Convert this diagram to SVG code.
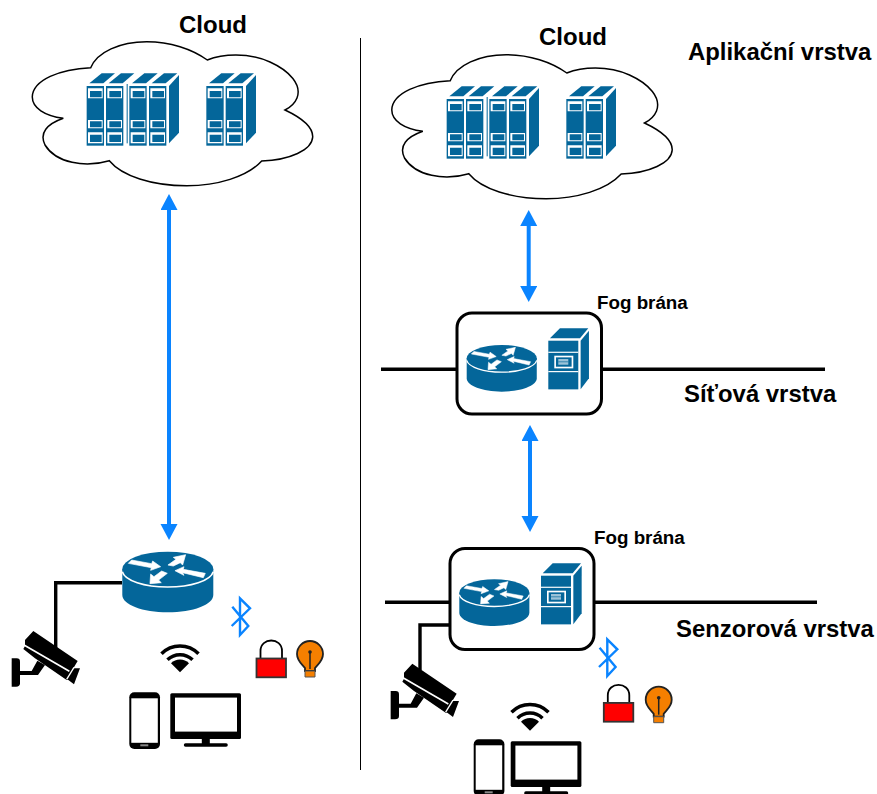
<svg xmlns="http://www.w3.org/2000/svg" xmlns:xlink="http://www.w3.org/1999/xlink" width="877" height="794" viewBox="0 0 877 794">
<style>
text{font-family:"Liberation Sans",Arial,sans-serif;font-weight:bold;fill:#000}
.c{font-size:24px}.f{font-size:18.800px}.l{font-size:23.900px}
.b{fill:#04669a}.w{fill:#fff}
.ln{fill:none;stroke:#000;stroke-width:3.400}
.ar{fill:none;stroke:#0a84ff;stroke-width:4;marker-start:url(#ah);marker-end:url(#ah)}
.bt{fill:none;stroke:#0a84ff;stroke-width:2.400}
</style>
<defs>
<marker id="ah" markerUnits="userSpaceOnUse" markerWidth="18" markerHeight="18" refX="2" refY="8.500" orient="auto-start-reverse"><path d="M0,0L16,8.500L0,17Z" fill="#0a84ff"/></marker>
<g id="blade">
<path class="b" d="M8,-8L45,-38H85L50,-8Z"/>
<rect class="b" x="0" y="0" width="52" height="179"/>
<path class="w" d="M4,7H48V37H4ZM4,102H48V127H4ZM4,139H48V172H4Z"/>
<path class="b" d="M10,15H45V34H10ZM10,106H45V124H10ZM10,146H45V168H10Z"/>
</g>
<g id="side"><path class="b" d="M0,0L30,-33V140L0,172Z"/></g>
<g id="servers">
<use href="#blade" x="200" y="258"/><use href="#blade" x="258" y="258"/><rect class="b" x="320" y="252" width="3" height="178"/><use href="#blade" x="328" y="258"/><use href="#blade" x="387" y="258"/><use href="#side" x="447" y="258"/>
<use href="#blade" x="559" y="258"/><use href="#blade" x="617" y="258"/><use href="#side" x="678" y="258"/>
</g>
<path id="cloudshape" fill="#fff" stroke="#000" stroke-width="1.500" d="M90.700,67.700C97,52 120,41.700 146.700,41.700C170,41.700 192,49 207.300,60C222,54 248,52 270,62C290,71 302,85 297,98C295,103 291,107 285,110C302,118 313,127 312.700,137C312,150 290,160 261.700,161C247,177 217,185.700 186.700,185.700C152,185.700 122,176 109.300,160.700C85,168 56,163 45,145C39,133 47,124 63.300,118.300C45,116 32,108 32.300,96.700C33,80 60,69 90.700,67.700Z"/>
<g id="router"><g transform="scale(.33333) translate(-367,-35)">
<path class="b" d="M367,87V165C367,194 428,217 503,217C579,217 640,194 640,165V87Z"/>
<ellipse class="b" cx="503.500" cy="87" rx="136.500" ry="52"/>
<path fill="none" stroke="#fff" stroke-width="5" d="M367,95C375,122 433,141 503,141C573,141 632,122 640,95"/>
<path class="w" stroke="#fff" stroke-width="2" d="M385,70L395,60L455,71L458,63L482,80L452,91L454,83ZM504,75L528,58L520,52L557,44L548,75L541,68L520,78ZM525,92L552,80L550,88L616,100L610,113L548,98L552,106ZM450,131L452,102L462,110L485,93L502,100L476,120L484,128Z"/>
</g></g>
<g id="fogserver"><g transform="scale(.33333) translate(-325,-152)">
<path class="b" d="M330,145L360,115H445L420,145Z"/>
<rect class="b" x="325" y="152" width="90" height="146"/>
<path class="b" d="M422,152L447,122V265L422,298Z"/>
<rect class="w" x="325" y="185" width="90" height="3.500"/><rect class="w" x="325" y="243" width="90" height="3.500"/>
<rect class="w" x="343" y="197" width="57" height="38"/><rect class="b" x="348" y="202" width="47" height="28"/><rect fill="#9cc3d8" x="355" y="207" width="30" height="17"/><rect class="b" x="355" y="214.500" width="30" height="2"/>
</g></g>
<g id="camera"><g transform="scale(.33333)">
<path d="M75,300L100,273L233,363L220,385L240,385L222,433L205,420L200,420L105,355L70,327L75,318Z"/>
<path fill="none" stroke="#fff" stroke-width="5" d="M72,315L208,394"/>
<path fill="none" stroke="#fff" stroke-width="4" d="M222,382L200,418"/>
<path d="M35,355H50Q60,355 60,365V430Q60,440 48,440H35Z"/>
<path d="M60,393L95,393L112,362L135,375L114,405H60Z"/>
</g></g>
<g id="wifi"><path d="M0,0L-9,-9A12.700,12.700 0 0 1 9,-9Z"/><path fill="none" stroke="#000" stroke-width="3.500" d="M-12.500,-12.500A17.700,17.700 0 0 1 12.500,-12.500M-18.500,-18.500A26,26 0 0 1 18.500,-18.500"/></g>
<g id="phone"><rect width="30.700" height="56.700" rx="5"/><rect class="w" x="2" y="6" width="26.500" height="44.500"/><rect x="11" y="52" width="8" height="2" fill="#888"/></g>
<g id="monitor"><rect width="70.700" height="45.700" rx="1.500"/><rect class="w" x="4.700" y="4.300" width="62" height="34"/><rect x="31.500" y="45" width="8" height="7"/><rect x="13.500" y="50" width="44" height="3.500" rx="1.700"/></g>
<g id="lock"><path fill="none" stroke="#000" stroke-width="1.800" d="M5,19V11C5,-3 26.500,-3 26.500,11V19"/><rect x="1" y="18.500" width="29.500" height="18.800" fill="#f00" stroke="#333" stroke-width="1.800"/></g>
<g id="bulb"><path fill="#f57f00" stroke="#222" stroke-width="1.800" d="M-5,13C-8,9 -13,6 -13,-1A13,13 0 0 1 13,-1C13,6 8,9 5,13V16H-5Z"/><path fill="none" stroke="#222" stroke-width="1.500" d="M0,-3V14"/><circle cy="-3" r="1.800" fill="#222"/><path d="M-5,16H5V22H-5Z" fill="#f57f00" stroke="#555" stroke-width="1"/></g>
<path id="btp" class="bt" d="M-7.700,8.400L8.300,27.700L0,36.700V0L10,10L-8.300,27.700"/>
</defs>
<rect width="877" height="794" fill="#fff"/>
<g id="connectors">
<path fill="none" stroke="#000" d="M360.500,38V770"/>
<path class="ar" d="M169,208V526"/>
<path class="ar" d="M528.700,224V288"/>
<path class="ar" d="M530,439V518"/>
<path class="ln" d="M381,369.300H457M601,369.300H825"/>
<path class="ln" d="M385,602.300H450M594,602.300H817"/>
<path class="ln" d="M122,582.700H55.700V650"/>
<path class="ln" d="M450,625H420V670"/>
</g>
<g id="cloud-left"><use href="#cloudshape"/><g transform="translate(20,0) scale(.33333)"><use href="#servers"/></g><text class="c" x="179" y="33">Cloud</text></g>
<g id="cloud-right"><use href="#cloudshape" x="359.500" y="13"/><g transform="translate(380,13) scale(.33333)"><use href="#servers"/></g><text class="c" x="539" y="45">Cloud</text></g>
<g id="router-left"><use href="#router" x="122.300" y="551.700"/></g>
<g id="fog-top"><rect x="457" y="313" width="144.500" height="101" rx="15" fill="#fff" stroke="#000" stroke-width="3"/>
<g transform="translate(466.700,345) scale(.77)"><use href="#router"/></g><use href="#fogserver" x="548.300" y="340.700"/><text class="f" x="597" y="309">Fog brána</text></g>
<g id="fog-bottom"><rect x="450" y="548.500" width="144" height="101" rx="15" fill="#fff" stroke="#000" stroke-width="3"/>
<g transform="translate(459.300,579.300) scale(.77)"><use href="#router"/></g><use href="#fogserver" x="541" y="575.700"/><text class="f" x="594" y="544">Fog brána</text></g>
<g id="label-app"><text class="l" x="688" y="60">Aplikační vrstva</text></g>
<g id="label-net"><text class="l" x="684" y="402">Síťová vrstva</text></g>
<g id="label-sen"><text class="l" x="676" y="637">Senzorová vrstva</text></g>
<g id="camera-left"><use href="#camera" x="0" y="540"/></g>
<g id="camera-right"><use href="#camera" x="379" y="572.700"/></g>
<g id="wifi-left"><use href="#wifi" x="180" y="672.300"/></g>
<g id="wifi-right"><use href="#wifi" x="530" y="730.700"/></g>
<g id="phone-left"><use href="#phone" x="129.300" y="692.300"/></g>
<g id="monitor-left"><use href="#monitor" x="170.300" y="693.300"/></g>
<g id="phone-right"><use href="#phone" x="473.700" y="739.300"/></g>
<g id="monitor-right"><use href="#monitor" x="510.700" y="741.300"/></g>
<g id="bluetooth-left"><use href="#btp" x="240" y="598.300"/></g>
<g id="bluetooth-right"><use href="#btp" x="607.300" y="639.300"/></g>
<g id="lock-left"><use href="#lock" x="255.500" y="640"/></g>
<g id="lock-right"><use href="#lock" x="602.800" y="684.400"/></g>
<g id="bulb-left"><use href="#bulb" x="310" y="655"/></g>
<g id="bulb-right"><use href="#bulb" x="658.700" y="700.700"/></g>
</svg>
